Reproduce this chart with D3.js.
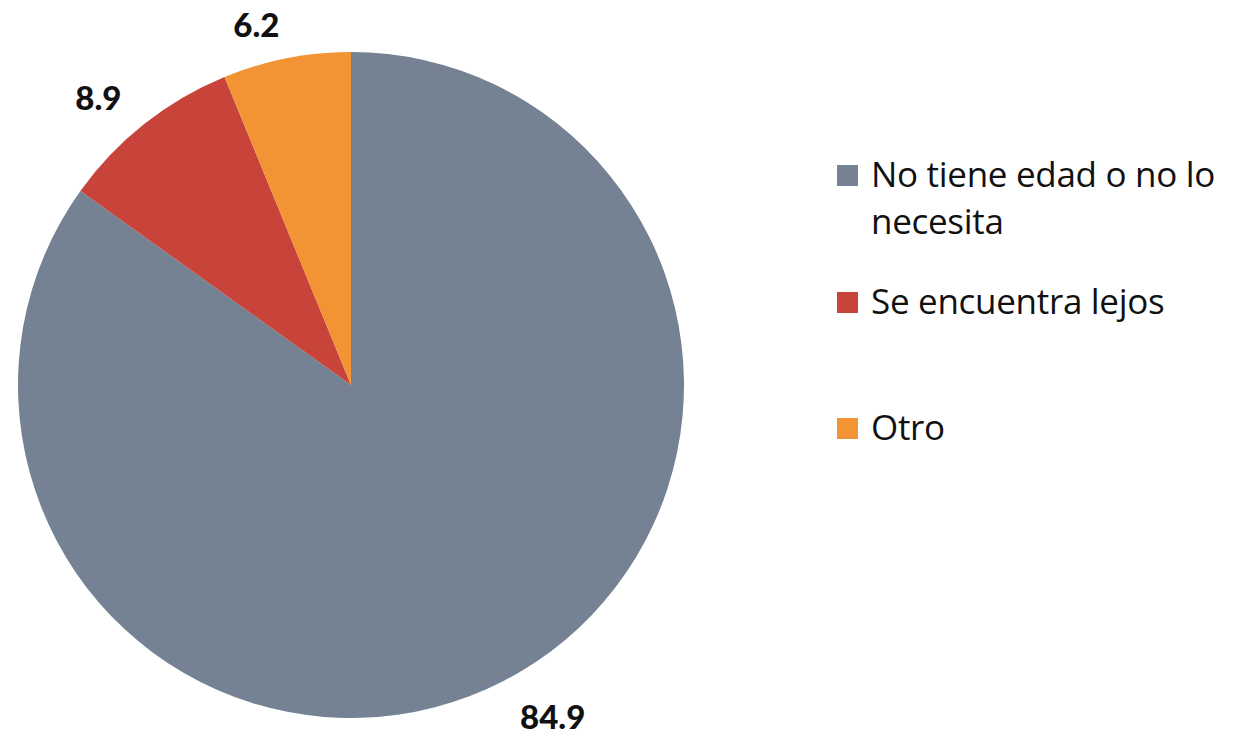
<!DOCTYPE html>
<html><head><meta charset="utf-8">
<script src="https://cdn.jsdelivr.net/npm/d3@7"></script>
<style>body{margin:0;background:#fff}</style>
</head><body>
<svg id="c" width="1250" height="736"></svg>
<script>
const categories = ["No tiene edad o no lo necesita", "Se encuentra lejos", "Otro"];
const values = [84.9, 8.9, 6.2];
const labels = ["84.9", "8.9", "6.2"];
const legendLines = [["No tiene edad o no lo", "necesita"], ["Se encuentra lejos"], ["Otro"]];
const colors = ["#748293", "#c8443a", "#f29434"];

const svg = d3.select("#c");
const cx = 351, cy = 385, R = 333;
const g = svg.append("g").attr("transform", `translate(${cx},${cy})`);
const pie = d3.pie().sort(null).value(d => d)(values);
const arc = d3.arc().innerRadius(0).outerRadius(R);
g.selectAll("path").data(pie).enter().append("path")
  .attr("d", arc).attr("fill", (d, i) => colors[i]);
const labelArc = d3.arc().innerRadius(370).outerRadius(370);
g.selectAll("text.lbl").data(pie).enter().append("text")
  .attr("transform", d => `translate(${labelArc.centroid(d)})`)
  .attr("text-anchor", d => ((d.startAngle + d.endAngle) / 2 > Math.PI ? "end" : "start"))
  .attr("dy", "0.45em")
  .attr("font-family", "Lato, 'Open Sans', sans-serif").attr("font-weight", "900")
  .attr("font-size", 33).attr("fill", "#111")
  .text((d, i) => labels[i]);

const legTop = [165, 292, 418];
const lg = svg.append("g");
categories.forEach((c, i) => {
  lg.append("rect").attr("x", 837).attr("y", legTop[i]).attr("width", 21).attr("height", 21).attr("fill", colors[i]);
  const t = lg.append("text").attr("x", 871).attr("y", legTop[i] + 22)
    .attr("font-family", "'Open Sans', sans-serif").attr("font-size", 35)
    .attr("letter-spacing", -0.3).attr("fill", "#111");
  legendLines[i].forEach((l, j) => {
    t.append("tspan").attr("x", 871).attr("dy", j === 0 ? 0 : 47).text(l);
  });
});
</script>
</body></html>
